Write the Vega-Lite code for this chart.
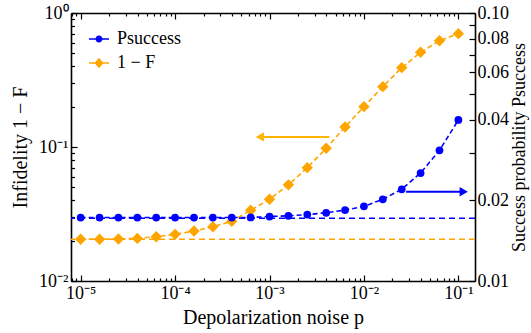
{
  "$schema": "https://vega.github.io/schema/vega-lite/v6.json",
  "width": 404,
  "height": 268,
  "autosize": "none",
  "padding": {"left": 71, "top": 13, "right": 56, "bottom": 52},
  "config": {
    "font": "Liberation Serif, Times New Roman, serif",
    "view": {"stroke": null},
    "axis": {
      "grid": false,
      "domainColor": "black",
      "domainWidth": 1.6,
      "tickColor": "black",
      "tickWidth": 1.2,
      "labelFont": "Liberation Serif, Times New Roman, serif",
      "labelFontSize": 18,
      "labelColor": "black",
      "titleFont": "Liberation Serif, Times New Roman, serif",
      "titleFontSize": 20,
      "titleFontWeight": "normal",
      "titleColor": "black"
    }
  },
  "datasets": {
    "curves": [
      {"p": 1e-5, "series": "1 − F", "v": 0.0205},
      {"p": 1.585e-5, "series": "1 − F", "v": 0.0205},
      {"p": 2.512e-5, "series": "1 − F", "v": 0.0206},
      {"p": 3.981e-5, "series": "1 − F", "v": 0.0208},
      {"p": 6.310e-5, "series": "1 − F", "v": 0.0214},
      {"p": 1e-4, "series": "1 − F", "v": 0.0223},
      {"p": 1.585e-4, "series": "1 − F", "v": 0.0236},
      {"p": 2.512e-4, "series": "1 − F", "v": 0.0254},
      {"p": 3.981e-4, "series": "1 − F", "v": 0.0279},
      {"p": 6.310e-4, "series": "1 − F", "v": 0.0337},
      {"p": 1e-3, "series": "1 − F", "v": 0.0407},
      {"p": 1.585e-3, "series": "1 − F", "v": 0.0522},
      {"p": 2.512e-3, "series": "1 − F", "v": 0.0701},
      {"p": 3.981e-3, "series": "1 − F", "v": 0.0978},
      {"p": 6.310e-3, "series": "1 − F", "v": 0.141},
      {"p": 1e-2, "series": "1 − F", "v": 0.200},
      {"p": 1.585e-2, "series": "1 − F", "v": 0.282},
      {"p": 2.512e-2, "series": "1 − F", "v": 0.391},
      {"p": 3.981e-2, "series": "1 − F", "v": 0.509},
      {"p": 6.310e-2, "series": "1 − F", "v": 0.621},
      {"p": 1e-1, "series": "1 − F", "v": 0.701},
      {"p": 1e-5, "series": "Psuccess", "v": 0.01725},
      {"p": 1.585e-5, "series": "Psuccess", "v": 0.01725},
      {"p": 2.512e-5, "series": "Psuccess", "v": 0.01725},
      {"p": 3.981e-5, "series": "Psuccess", "v": 0.01725},
      {"p": 6.310e-5, "series": "Psuccess", "v": 0.01725},
      {"p": 1e-4, "series": "Psuccess", "v": 0.01725},
      {"p": 1.585e-4, "series": "Psuccess", "v": 0.01725},
      {"p": 2.512e-4, "series": "Psuccess", "v": 0.01725},
      {"p": 3.981e-4, "series": "Psuccess", "v": 0.01725},
      {"p": 6.310e-4, "series": "Psuccess", "v": 0.01726},
      {"p": 1e-3, "series": "Psuccess", "v": 0.0174},
      {"p": 1.585e-3, "series": "Psuccess", "v": 0.01751},
      {"p": 2.512e-3, "series": "Psuccess", "v": 0.01769},
      {"p": 3.981e-3, "series": "Psuccess", "v": 0.01797},
      {"p": 6.310e-3, "series": "Psuccess", "v": 0.01839},
      {"p": 1e-2, "series": "Psuccess", "v": 0.0190},
      {"p": 1.585e-2, "series": "Psuccess", "v": 0.02018},
      {"p": 2.512e-2, "series": "Psuccess", "v": 0.02199},
      {"p": 3.981e-2, "series": "Psuccess", "v": 0.02529},
      {"p": 6.310e-2, "series": "Psuccess", "v": 0.03074},
      {"p": 1e-1, "series": "Psuccess", "v": 0.03988}
    ],
    "hlines": [
      {"series": "1 − F", "v": 0.0205},
      {"series": "Psuccess", "v": 0.01714}
    ],
    "arrows": [
      {"series": "1 − F", "xstart": 0.0043, "xend": 0.00078, "xhead": 0.00079, "v": 0.119},
      {"series": "Psuccess", "xstart": 0.02796, "xend": 0.118, "xhead": 0.114, "v": 0.02154}
    ]
  },
  "layer": [
    {
      "resolve": {"axis": {"x": "independent", "y": "independent"}},
      "layer": [
        {
          "data": {"name": "curves"},
          "transform": [{"filter": "datum.series == '1 − F'"}],
          "mark": {"type": "line", "color": "#ffa500", "strokeWidth": 1.6, "strokeDash": [5, 3]},
          "encoding": {
            "x": {
              "field": "p",
              "type": "quantitative",
              "scale": {"type": "log", "domain": [7.9e-6, 0.15], "nice": false},
              "axis": {
                "orient": "bottom",
                "title": "Depolarization noise p",
                "titlePadding": 5,
                "values": [1e-5, 1e-4, 1e-3, 1e-2, 1e-1],
                "labelExpr": "['10⁻⁵','10⁻⁴','10⁻³','10⁻²','10⁻¹','10⁰'][round(log(datum.value)/LN10)+5]",
                "ticks": false,
                "tickSize": 0,
                "labelPadding": 3,
                "labelFlush": false
              }
            },
            "y": {
              "field": "v",
              "type": "quantitative",
              "scale": {"type": "log", "domain": [0.01, 1], "nice": false},
              "axis": {
                "orient": "left",
                "title": "Infidelity 1 − F",
                "titlePadding": 8,
                "values": [0.01, 0.1, 1],
                "labelExpr": "['10⁻²','10⁻¹','10⁰'][round(log(datum.value)/LN10)+2]",
                "ticks": false,
                "tickSize": 0,
                "labelPadding": 3
              }
            }
          }
        },
        {
          "data": {"name": "curves"},
          "transform": [{"filter": "datum.series == '1 − F'"}],
          "mark": {"type": "point", "shape": "diamond", "filled": true, "size": 130, "opacity": 1, "color": "#ffa500"},
          "encoding": {
            "x": {
              "field": "p",
              "type": "quantitative",
              "axis": {"orient": "bottom", "title": null, "labels": false, "domain": false, "values": [1e-5, 1e-4, 1e-3, 1e-2, 1e-1], "tickSize": -6}
            },
            "y": {
              "field": "v",
              "type": "quantitative",
              "axis": {"orient": "left", "title": null, "labels": false, "domain": false, "values": [0.01, 0.1, 1], "tickSize": -6}
            }
          }
        },
        {
          "data": {"name": "hlines"},
          "transform": [{"filter": "datum.series == '1 − F'"}],
          "mark": {"type": "rule", "color": "#ffa500", "strokeWidth": 1.5, "strokeDash": [6, 4]},
          "encoding": {
            "y": {
              "field": "v",
              "type": "quantitative",
              "axis": {"orient": "left", "title": null, "labels": false, "domain": false, "values": [0.02, 0.03, 0.04, 0.05, 0.06, 0.07, 0.08, 0.09, 0.2, 0.3, 0.4, 0.5, 0.6, 0.7, 0.8, 0.9], "tickSize": -3.5}
            }
          }
        },
        {
          "data": {"name": "arrows"},
          "transform": [{"filter": "datum.series == '1 − F'"}],
          "mark": {"type": "rule", "color": "#ffb400", "strokeWidth": 2},
          "encoding": {
            "x": {
              "field": "xstart",
              "type": "quantitative",
              "axis": {"orient": "bottom", "title": null, "labels": false, "domain": false, "values": [8e-6, 9e-6, 2e-5, 3e-5, 4e-5, 5e-5, 6e-5, 7e-5, 8e-5, 9e-5, 2e-4, 3e-4, 4e-4, 5e-4, 6e-4, 7e-4, 8e-4, 9e-4, 2e-3, 3e-3, 4e-3, 5e-3, 6e-3, 7e-3, 8e-3, 9e-3, 2e-2, 3e-2, 4e-2, 5e-2, 6e-2, 7e-2, 8e-2, 9e-2], "tickSize": -3}
            },
            "x2": {"field": "xend"},
            "y": {"field": "v", "type": "quantitative", "axis": null}
          }
        },
        {
          "data": {"name": "arrows"},
          "transform": [{"filter": "datum.series == '1 − F'"}],
          "mark": {"type": "point", "shape": "triangle-left", "filled": true, "size": 90, "color": "#ffb400", "opacity": 1},
          "encoding": {
            "x": {"field": "xhead", "type": "quantitative", "axis": null},
            "y": {"field": "v", "type": "quantitative", "axis": null}
          }
        },
        {
          "data": {"name": "curves"},
          "mark": {"type": "point", "filled": true, "opacity": 0, "size": 400},
          "encoding": {
            "x": {"field": "p", "type": "quantitative", "axis": null},
            "y": {"field": "v", "type": "quantitative", "axis": null},
            "color": {
              "field": "series",
              "type": "nominal",
              "scale": {"domain": ["Psuccess", "1 − F"], "range": ["#0000ff", "#ffa500"]},
              "legend": {
                "title": null,
                "orient": "none",
                "legendX": 18,
                "legendY": 16,
                "padding": 0,
                "symbolSize": 400,
                "symbolOpacity": 1,
                "symbolStrokeWidth": 0,
                "labelFontSize": 18,
                "labelFont": "Liberation Serif, Times New Roman, serif",
                "labelColor": "black",
                "labelOffset": 8,
                "rowPadding": 5
              }
            },
            "shape": {
              "field": "series",
              "type": "nominal",
              "scale": {
                "domain": ["Psuccess", "1 − F"],
                "range": [
                  "M-1,-0.08H1V0.08H-1Z M0.35,0A0.35,0.35 0 1,1 -0.35,0A0.35,0.35 0 1,1 0.35,0Z",
                  "M-1,-0.08H1V0.08H-1Z M0,-0.52L0.45,0L0,0.52L-0.45,0Z"
                ]
              },
              "legend": {
                "title": null,
                "orient": "none",
                "legendX": 18,
                "legendY": 16,
                "padding": 0,
                "symbolSize": 400,
                "symbolOpacity": 1,
                "symbolStrokeWidth": 0,
                "labelFontSize": 18,
                "labelFont": "Liberation Serif, Times New Roman, serif",
                "labelColor": "black",
                "labelOffset": 8,
                "rowPadding": 5
              }
            }
          }
        }
      ]
    },
    {
      "resolve": {"axis": {"x": "independent", "y": "independent"}},
      "layer": [
        {
          "data": {"name": "curves"},
          "transform": [{"filter": "datum.series == 'Psuccess'"}],
          "mark": {"type": "line", "color": "#0000ff", "strokeWidth": 1.6, "strokeDash": [5, 3]},
          "encoding": {
            "x": {
              "field": "p",
              "type": "quantitative",
              "axis": {"orient": "top", "title": null, "labels": false, "values": [1e-5, 1e-4, 1e-3, 1e-2, 1e-1], "tickSize": -6}
            },
            "y": {
              "field": "v",
              "type": "quantitative",
              "scale": {"type": "log", "domain": [0.01, 0.1], "nice": false},
              "axis": {
                "orient": "right",
                "title": "Success probability Psuccess",
                "titleAngle": 270,
                "titleBaseline": "top",
                "titleFontSize": 18,
                "titlePadding": 2,
                "values": [0.01, 0.02, 0.04, 0.06, 0.08, 0.1],
                "labelExpr": "format(datum.value, '.2f')",
                "ticks": false,
                "tickSize": 0,
                "labelPadding": 2
              }
            }
          }
        },
        {
          "data": {"name": "curves"},
          "transform": [{"filter": "datum.series == 'Psuccess'"}],
          "mark": {"type": "point", "shape": "circle", "filled": true, "size": 60, "opacity": 1, "color": "#0000ff"},
          "encoding": {
            "x": {
              "field": "p",
              "type": "quantitative",
              "axis": {"orient": "top", "title": null, "labels": false, "domain": false, "values": [8e-6, 9e-6, 2e-5, 3e-5, 4e-5, 5e-5, 6e-5, 7e-5, 8e-5, 9e-5, 2e-4, 3e-4, 4e-4, 5e-4, 6e-4, 7e-4, 8e-4, 9e-4, 2e-3, 3e-3, 4e-3, 5e-3, 6e-3, 7e-3, 8e-3, 9e-3, 2e-2, 3e-2, 4e-2, 5e-2, 6e-2, 7e-2, 8e-2, 9e-2], "tickSize": -3}
            },
            "y": {
              "field": "v",
              "type": "quantitative",
              "axis": {"orient": "right", "title": null, "labels": false, "domain": false, "values": [0.01, 0.02, 0.03, 0.04, 0.05, 0.06, 0.07, 0.08, 0.09, 0.1], "tickSize": -6}
            }
          }
        },
        {
          "data": {"name": "hlines"},
          "transform": [{"filter": "datum.series == 'Psuccess'"}],
          "mark": {"type": "rule", "color": "#0000ff", "strokeWidth": 1.5, "strokeDash": [6, 4]},
          "encoding": {
            "y": {"field": "v", "type": "quantitative", "axis": null}
          }
        },
        {
          "data": {"name": "arrows"},
          "transform": [{"filter": "datum.series == 'Psuccess'"}],
          "mark": {"type": "rule", "color": "#0000ff", "strokeWidth": 2},
          "encoding": {
            "x": {"field": "xstart", "type": "quantitative", "axis": null},
            "x2": {"field": "xend"},
            "y": {"field": "v", "type": "quantitative", "axis": null}
          }
        },
        {
          "data": {"name": "arrows"},
          "transform": [{"filter": "datum.series == 'Psuccess'"}],
          "mark": {"type": "point", "shape": "triangle-right", "filled": true, "size": 90, "color": "#0000ff", "opacity": 1},
          "encoding": {
            "x": {"field": "xhead", "type": "quantitative", "axis": null},
            "y": {"field": "v", "type": "quantitative", "axis": null}
          }
        }
      ]
    }
  ],
  "resolve": {"scale": {"y": "independent"}, "axis": {"x": "independent"}}
}
